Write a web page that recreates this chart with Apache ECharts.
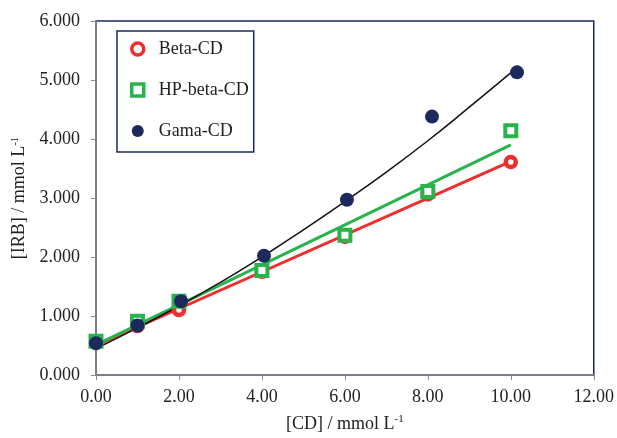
<!DOCTYPE html>
<html>
<head>
<meta charset="utf-8">
<script src="https://cdn.jsdelivr.net/npm/echarts@6/dist/echarts.min.js"></script>
<style>html,body{margin:0;padding:0;background:#fff}#c{width:617px;height:438px}</style>
</head>
<body>
<div id="c"></div>
<script>
// Data
var betaX = [0, 1, 2, 4, 6, 8, 10];
var betaY = [0.54, 0.83, 1.10, 1.75, 2.34, 3.06, 3.61];
var hpX = [0, 1, 2, 4, 6, 8, 10];
var hpY = [0.57, 0.91, 1.25, 1.77, 2.37, 3.11, 4.14];
var gamaX = [0, 1, 2.05, 4.05, 6.05, 8.1, 10.15];
var gamaY = [0.54, 0.84, 1.25, 2.02, 2.97, 4.38, 5.13];
// Trend lines
var betaTrendX = [0, 10];
var betaTrendY = [0.50, 3.62];
var hpTrendX = [0, 10];
var hpTrendY = [0.51, 3.90];
var gamaTrendX = [0, 1, 2, 3, 4, 5, 6, 7, 8, 9, 10.15];
var gamaTrendY = [0.45, 0.80, 1.17, 1.57, 2.00, 2.46, 2.94, 3.44, 3.97, 4.54, 5.21];
var seriesNames = ['Beta-CD', 'HP-beta-CD', 'Gama-CD'];

function pairs(xs, ys) { return xs.map(function (x, i) { return [x, ys[i]]; }); }

var RED = '#ee2f2f', GREEN = '#2ab24c', NAVY = '#1b2a5a';
var FONT = 'Liberation Serif';
var TXT = '#222';
var richName = { a: { fontFamily: FONT, fontSize: 18, color: TXT }, s: { fontFamily: FONT, fontSize: 11, color: TXT, verticalAlign: 'top', padding: [0, 0, 9, 0] } };
var chart = echarts.init(document.getElementById('c'));
chart.setOption({
  animation: false,
  grid: { left: 96, right: 23, top: 21, bottom: 61, show: true, borderColor: NAVY, borderWidth: 1.5, backgroundColor: 'transparent' },
  legend: {
    orient: 'vertical', left: 117, top: 31,
    padding: [8, 5, 11, 13],
    itemWidth: 12, itemHeight: 12, itemGap: 21,
    borderColor: NAVY, borderWidth: 1.5, backgroundColor: '#fff',
    textStyle: { fontFamily: FONT, fontSize: 18, color: TXT, lineHeight: 20, padding: [0, 0, 0, 10] },
    data: [
      { name: seriesNames[0], itemStyle: { borderWidth: 3.5, borderColor: RED, color: '#fff' } },
      { name: seriesNames[1], itemStyle: { borderWidth: 3.5, borderColor: GREEN, color: '#fff' } },
      { name: seriesNames[2], itemStyle: { borderWidth: 0, color: NAVY } }
    ]
  },
  xAxis: {
    type: 'value', min: 0, max: 12, interval: 2,
    name: '{a|[CD] / mmol L}{s|-1}', nameLocation: 'middle', nameGap: 39,
    nameTextStyle: { rich: richName },
    axisLine: { lineStyle: { color: '#8a8a8a', width: 1.5 } },
    axisTick: { show: true, length: 5, lineStyle: { color: '#8a8a8a' } },
    axisLabel: { fontFamily: FONT, fontSize: 18, color: TXT, margin: 13, formatter: function (v) { return v.toFixed(2); } },
    splitLine: { show: false }
  },
  yAxis: {
    type: 'value', min: 0, max: 6, interval: 1,
    name: '{a|[IRB] / mmol L}{s|-1}', nameLocation: 'middle', nameGap: 59, nameRotate: 90,
    nameTextStyle: { rich: richName },
    axisLine: { show: true, lineStyle: { color: '#8a8a8a', width: 1.5 } },
    axisTick: { show: true, length: 5, lineStyle: { color: '#8a8a8a' } },
    axisLabel: { fontFamily: FONT, fontSize: 18, color: TXT, margin: 16, formatter: function (v) { return v.toFixed(3); } },
    splitLine: { show: false }
  },
  series: [
    { name: 'BetaTrend', type: 'line', data: pairs(betaTrendX, betaTrendY), showSymbol: false, silent: true, z: 1, lineStyle: { color: RED, width: 3 } },
    { name: 'HPTrend', type: 'line', data: pairs(hpTrendX, hpTrendY), showSymbol: false, silent: true, z: 1, lineStyle: { color: GREEN, width: 3 } },
    { name: 'GamaTrend', type: 'line', data: pairs(gamaTrendX, gamaTrendY), smooth: true, showSymbol: false, silent: true, z: 1, lineStyle: { color: '#111', width: 1.5 } },
    { name: seriesNames[0], type: 'scatter', data: pairs(betaX, betaY), symbol: 'circle', symbolSize: 10, z: 3,
      itemStyle: { color: '#fff', borderColor: RED, borderWidth: 4.5, opacity: 1 } },
    { name: seriesNames[1], type: 'scatter', data: pairs(hpX, hpY), symbol: 'rect', symbolSize: 11, z: 4,
      itemStyle: { color: '#fff', borderColor: GREEN, borderWidth: 4, opacity: 1 } },
    { name: seriesNames[2], type: 'scatter', data: pairs(gamaX, gamaY), symbol: 'circle', symbolSize: 14, z: 5,
      itemStyle: { color: NAVY, opacity: 1 } }
  ]
});
</script>
</body>
</html>
